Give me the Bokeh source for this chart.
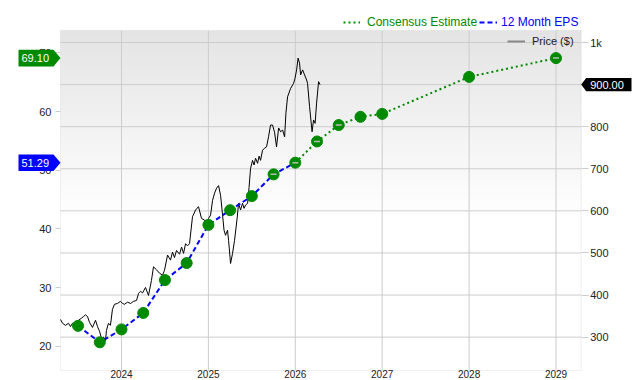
import numpy as np
from bokeh.plotting import figure
from bokeh.models import (Range1d, LinearAxis, FixedTicker, Legend, LegendItem,
                          Label, PolyAnnotation, BoxAnnotation)
from bokeh.embed import file_html
from bokeh.resources import INLINE

# ---------------- data ----------------
eps_year = [2023.5, 2023.75, 2024.0, 2024.25, 2024.5, 2024.75, 2025.0,
            2025.25, 2025.5, 2025.75, 2026.0]
eps_value = [23.5, 20.7, 22.9, 25.7, 31.3, 34.2, 40.7, 43.2, 45.6, 49.3, 51.29]

est_year = [2026.0, 2026.25, 2026.5, 2026.75, 2027.0, 2028.0, 2029.0]
est_value = [51.29, 54.9, 57.7, 59.1, 59.6, 65.9, 69.10]

price_year = [2023.298, 2023.321, 2023.355, 2023.390, 2023.413, 2023.436, 2023.470,
              2023.505, 2023.539, 2023.563, 2023.586, 2023.609, 2023.632, 2023.666,
              2023.701, 2023.724, 2023.747, 2023.770, 2023.793, 2023.816, 2023.827,
              2023.850, 2023.873, 2023.896, 2023.919, 2023.954, 2023.988, 2024.012,
              2024.035, 2024.069, 2024.104, 2024.138, 2024.173, 2024.196, 2024.219,
              2024.242, 2024.276, 2024.311, 2024.345, 2024.368, 2024.403, 2024.437,
              2024.472, 2024.495, 2024.530, 2024.564, 2024.587, 2024.610, 2024.633,
              2024.668, 2024.691, 2024.714, 2024.737, 2024.760, 2024.783, 2024.817,
              2024.852, 2024.886, 2024.921, 2024.956, 2024.979, 2025.002, 2025.025,
              2025.048, 2025.071, 2025.094, 2025.117, 2025.140, 2025.163, 2025.180,
              2025.197, 2025.220, 2025.232, 2025.255, 2025.278, 2025.301, 2025.332,
              2025.347, 2025.370, 2025.393, 2025.410, 2025.428, 2025.451, 2025.468,
              2025.485, 2025.508, 2025.525, 2025.543, 2025.566, 2025.583, 2025.600,
              2025.623, 2025.646, 2025.669, 2025.692, 2025.715, 2025.738, 2025.761,
              2025.784, 2025.808, 2025.831, 2025.854, 2025.877, 2025.892, 2025.911,
              2025.946, 2025.969, 2025.980, 2025.997, 2026.015, 2026.032, 2026.049,
              2026.061, 2026.084, 2026.107, 2026.130, 2026.141, 2026.164, 2026.193,
              2026.210, 2026.228, 2026.245, 2026.268, 2026.285]
price_value = [342, 333, 328, 333, 325, 333, 330,
               340, 345, 349, 353, 349, 335, 323,
               340, 325, 314, 297, 300, 292, 316,
               333, 328, 366, 378, 380, 385, 380,
               378, 383, 380, 385, 387, 404, 409,
               405, 418, 399, 435, 467, 460, 452,
               447, 459, 495, 483, 502, 489, 506,
               497, 514, 499, 522, 517, 522, 586,
               602, 610, 582, 578, 562, 582, 590,
               625, 642, 654, 660, 637, 590, 554,
               542, 554, 530, 475, 499, 530, 585,
               618, 602, 618, 606, 614, 618, 656,
               701, 720, 709, 725, 713, 730, 720,
               744, 749, 752, 776, 804, 804, 787,
               752, 797, 788, 792, 776, 832, 871,
               891, 899, 903, 915, 935, 963, 951,
               923, 935, 923, 911, 903, 848, 788,
               816, 808, 856, 907, 900]

dash_year = [2025.75, 2026.0, 2026.25, 2026.5, 2029.0]
dash_value = [49.3, 51.29, 54.9, 57.7, 69.10]

year_ticks = [2024, 2025, 2026, 2027, 2028, 2029]
eps_ticks = [20, 30, 40, 50, 60, 70]
price_ticks = [300, 400, 500, 600, 700, 800, 900, 1000]

# ---------------- layout constants ----------------
W, H = 640, 380
FL, FR, FT, FB = 60.0, 580.7, 30.0, 370.0     # plot-area box in pixels
X0, X1 = 2023.298, 2029.29                     # plot-area x extent (years)
P0, P1 = 220.7, 1028.6                         # plot-area price extent
E0, E1 = 15.9, 73.8                            # plot-area EPS extent

def ext(a, b, lo_px, hi_px, size):
    per = (b - a) / size
    return a - lo_px * per, b + hi_px * per

xr = ext(X0, X1, FL, W - FR, FR - FL)
pr = ext(P0, P1, H - FB, FT, FB - FT)
er = ext(E0, E1, H - FB, FT, FB - FT)

def eps_to_price(v):
    return P0 + (v - E0) * (P1 - P0) / (E1 - E0)

FONT = "Liberation Sans"
GREEN = "#008a00"
BLUE = "#0000ff"
GRID = "#cccccc"
TXT = "#222222"

p = figure(width=W, height=H, x_range=Range1d(*xr), y_range=Range1d(*pr),
           y_axis_location="right", output_backend="svg", toolbar_location=None,
           min_border=0, min_border_left=0, min_border_right=0,
           min_border_top=0, min_border_bottom=0,
           background_fill_color="white", border_fill_color="white",
           outline_line_color=None)
p.extra_y_ranges = {"eps": Range1d(*er)}
p.xgrid.visible = False
p.ygrid.visible = False

# background gradient inside the plot area (grey at top fading to white)
NG = 200
img = np.empty((NG, 1), dtype=np.uint32)
view = img.view(dtype=np.uint8).reshape((NG, 1, 4))
for i in range(NG):
    frac = i / (NG - 1)
    t = max(0.0, (frac - 0.45) / 0.55)
    g = int(round(255 - 27 * t))
    view[i, 0, :] = [g, g, g, 255]
p.image_rgba(image=[img], x=X0, y=P0, dw=X1 - X0, dh=P1 - P0, level="image")

# grid lines limited to the plot area
p.segment(x0=year_ticks, x1=year_ticks, y0=P0, y1=P1, color=GRID, line_width=1,
          level="underlay")
p.segment(x0=X0, x1=X1, y0=price_ticks, y1=price_ticks, color=GRID, line_width=1,
          level="underlay")
p.add_layout(BoxAnnotation(left=X0, right=X1, bottom=P0, top=P1, fill_alpha=0,
                           line_color=GRID, line_width=1, level="underlay"))

def style_axis(ax, tick_out, standoff, size="11px"):
    ax.major_tick_out = tick_out
    ax.major_tick_in = 0
    ax.minor_tick_out = 0
    ax.minor_tick_in = 0
    ax.major_tick_line_color = GRID
    ax.axis_line_color = None
    ax.major_label_standoff = standoff
    ax.major_label_text_font = FONT
    ax.major_label_text_font_size = size
    ax.major_label_text_color = TXT

# right axis: price
ra = p.yaxis[0]
ra.ticker = FixedTicker(ticks=price_ticks)
ra.major_label_overrides = {1000: "1k"}
ra.fixed_location = X1
style_axis(ra, 7, 2)

# left axis: EPS
la = LinearAxis(y_range_name="eps", ticker=FixedTicker(ticks=eps_ticks),
                fixed_location=X0)
style_axis(la, 5, 4)
p.add_layout(la, "left")

# bottom axis: years
xa = p.xaxis[0]
xa.ticker = FixedTicker(ticks=year_ticks)
xa.major_label_overrides = {y: str(y) for y in year_ticks}
xa.fixed_location = P0
style_axis(xa, 0, -1, "10px")

# series
price_line = p.line(price_year, price_value, color="black", line_width=1)
eps_line = p.line(eps_year, eps_value, y_range_name="eps", color=BLUE,
                  line_width=2, line_dash="5 3")
est_line = p.line(est_year, est_value, y_range_name="eps", color=GREEN,
                  line_width=2, line_dash="2 3")
p.scatter(eps_year + est_year[1:], eps_value + est_value[1:], y_range_name="eps",
          size=11, fill_color=GREEN, line_color=GREEN)
p.scatter(dash_year, dash_value, y_range_name="eps", marker="dash", size=6,
          line_color="#bbbbbb", line_width=1.5)

# legends
price_dummy = p.line([X0, X0], [float("nan"), float("nan")], color="#888888",
                     line_width=2)
common = dict(padding=0, margin=0, spacing=0, background_fill_alpha=0,
              border_line_alpha=0, label_text_font=FONT, glyph_height=14,
              label_height=14)
leg_price = Legend(items=[LegendItem(label="Price ($)", renderers=[price_dummy])],
                   location=(507, 332), glyph_width=18, label_standoff=7,
                   label_text_font_size="11px", label_text_color=TXT, **common)
leg_est = Legend(items=[LegendItem(label="Consensus Estimate", renderers=[est_line])],
                 location=(343, 351), glyph_width=17, label_standoff=7,
                 label_text_font_size="12px", label_text_color=GREEN, **common)
leg_eps = Legend(items=[LegendItem(label="12 Month EPS", renderers=[eps_line])],
                 location=(479, 351), glyph_width=18, label_standoff=4,
                 label_text_font_size="12px", label_text_color=BLUE, **common)
for lg in (leg_price, leg_est, leg_eps):
    p.add_layout(lg)

# value tags (EPS values mapped onto the primary y scale for annotations)
eh = 8.3 * (P1 - P0) / (FB - FT)
def eps_tag(val, color):
    yv = eps_to_price(val)
    p.add_layout(PolyAnnotation(xs=[18, 53, FL, 53, 18],
                                ys=[yv + eh, yv + eh, yv, yv - eh, yv - eh],
                                xs_units="screen", ys_units="data",
                                fill_color=color, fill_alpha=1, line_color=None,
                                level="annotation"))
    p.add_layout(Label(x=21, x_units="screen", y=yv,
                       text=f"{val:.2f}", text_color="white", text_font=FONT,
                       text_font_size="11px", text_baseline="middle"))

eps_tag(est_value[-1], GREEN)
eps_tag(eps_value[-1], BLUE)

last_price = price_value[-1]
ph = 6.7 * (P1 - P0) / (FB - FT)
p.add_layout(PolyAnnotation(xs=[FR, FR + 5, 631, 631, FR + 5],
                            ys=[last_price, last_price + ph, last_price + ph,
                                last_price - ph, last_price - ph],
                            xs_units="screen", ys_units="data",
                            fill_color="black", fill_alpha=1, line_color=None,
                            level="annotation"))
p.add_layout(Label(x=FR + 9, x_units="screen", y=last_price,
                   text=f"{last_price:.2f}", text_color="white", text_font=FONT,
                   text_font_size="11px", text_baseline="middle"))

open("out.html", "w").write(file_html(p, INLINE))
